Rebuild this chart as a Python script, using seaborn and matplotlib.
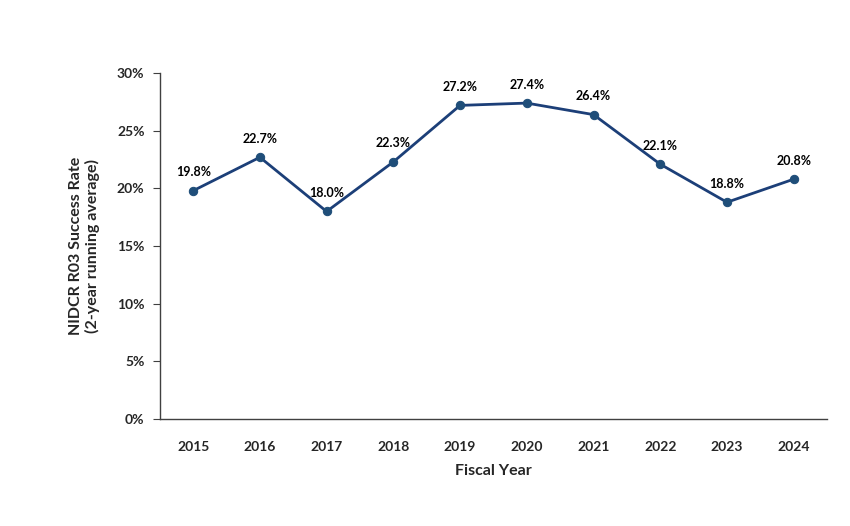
import pandas as pd
import seaborn as sns
import matplotlib.pyplot as plt
from matplotlib.ticker import FuncFormatter

years = ['2015', '2016', '2017', '2018', '2019', '2020', '2021', '2022', '2023', '2024']
rates = [19.8, 22.7, 18.0, 22.3, 27.2, 27.4, 26.4, 22.1, 18.8, 20.8]

df = pd.DataFrame({'year': years, 'rate': rates})

sns.set_style('white')
plt.rcParams['font.family'] = ['Lato', 'DejaVu Sans']

fig = plt.figure(figsize=(8.5, 5.26), dpi=100)
ax = fig.add_axes([0.188, 0.2034, 0.785, 0.6576])

line_color = '#1f4e79'
sns.lineplot(data=df, x='year', y='rate', ax=ax, color='#1c3f78', linewidth=2,
             marker='o', markersize=6, markerfacecolor=line_color, markeredgecolor=line_color)

for i, v in enumerate(rates):
    ax.annotate(f'{v:.1f}%', (i, v), xytext=(0, 9), textcoords='offset points',
                ha='center', va='bottom', fontsize=9, fontweight='bold', color='black')

ax.set_xlim(-0.5, len(years) - 0.5)
ax.set_ylim(0, 30)
ax.set_yticks(range(0, 31, 5))
ax.yaxis.set_major_formatter(FuncFormatter(lambda y, _: f'{y:.0f}%'))

for s in ['top', 'right']:
    ax.spines[s].set_visible(False)
for s in ['left', 'bottom']:
    ax.spines[s].set_color('#404040')
    ax.spines[s].set_linewidth(1)

ax.tick_params(axis='y', left=True, length=5, color='#404040', labelsize=10, pad=6)
ax.tick_params(axis='x', bottom=False, labelsize=10, pad=12)
for lab in ax.get_xticklabels() + ax.get_yticklabels():
    lab.set_fontweight('bold')

ax.set_xlabel('Fiscal Year', fontsize=11.5, fontweight='bold', labelpad=8)
ax.set_ylabel('NIDCR R03 Success Rate\n(2-year running average)', fontsize=11.5,
              fontweight='bold', labelpad=12)

fig.savefig('out.png', dpi=100)
